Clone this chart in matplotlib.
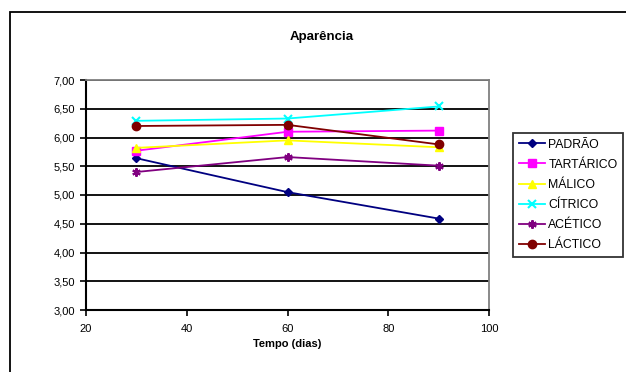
import matplotlib.pyplot as plt
from matplotlib.patches import Rectangle
from matplotlib.ticker import FuncFormatter

plt.rcParams['font.family'] = ['Liberation Sans', 'DejaVu Sans']

dias = [30, 60, 90]
padrao = [5.64, 5.05, 4.59]
tartarico = [5.77, 6.10, 6.12]
malico = [5.82, 5.95, 5.83]
citrico = [6.29, 6.33, 6.54]
acetico = [5.40, 5.66, 5.51]
lactico = [6.20, 6.22, 5.88]

fig = plt.figure(figsize=(6.26, 3.72), dpi=100)
ax = fig.add_axes([86 / 626, 1 - 310 / 372, 403 / 626, 230 / 372])

ax.plot(dias, padrao, color='#000080', marker='D', ms=4, lw=1.3, label='PADRÃO')
ax.plot(dias, tartarico, color='#ff00ff', marker='s', ms=6, lw=1.3, label='TARTÁRICO')
ax.plot(dias, malico, color='#ffff00', marker='^', ms=6, lw=1.3, label='MÁLICO')
ax.plot(dias, citrico, color='#00ffff', marker='x', ms=6, mew=1.5, lw=1.3, label='CÍTRICO')
ax.plot(dias, acetico, color='#800080', marker=(6, 2, 0), ms=6, mew=1.5, lw=1.3, label='ACÉTICO')
ax.plot(dias, lactico, color='#800000', marker='o', ms=6, lw=1.3, label='LÁCTICO')

ax.set_xlim(20, 100)
ax.set_ylim(3, 7)
ax.set_xticks([20, 40, 60, 80, 100])
ax.set_yticks([3 + 0.5 * i for i in range(9)])
ax.yaxis.set_major_formatter(FuncFormatter(lambda v, p: f'{v:.2f}'.replace('.', ',')))
ax.tick_params(labelsize=8, length=4, width=1.2, direction='out', pad=4)
ax.tick_params(axis='x', pad=6)
ax.grid(axis='y', color='black', lw=1.3)
ax.set_axisbelow(True)
for s in ['top', 'right']:
    ax.spines[s].set_color('#808080')
    ax.spines[s].set_linewidth(1.3)
for s in ['left', 'bottom']:
    ax.spines[s].set_linewidth(1.5)

ax.set_xlabel('Tempo (dias)', fontsize=8, fontweight='bold', labelpad=4)
fig.text(322 / 626, 1 - 37 / 372, 'Aparência', ha='center', va='center',
         fontsize=9.5, fontweight='bold')

leg = ax.legend(loc='upper left', bbox_to_anchor=(513 / 626, 1 - 133 / 372),
                bbox_transform=fig.transFigure, fontsize=8.8, frameon=True,
                fancybox=False, edgecolor='black', handlelength=2.2,
                labelspacing=0.67, borderpad=0.45, handletextpad=0.25,
                borderaxespad=0)
leg.get_frame().set_linewidth(1.3)

# outer chart border, cut off at the right and bottom edges
fig.patches.append(Rectangle((10 / 626, -0.1), 1.0, 1.1 - 12 / 372,
                             transform=fig.transFigure, fill=False,
                             edgecolor='black', lw=1.3))

fig.savefig('out.png', dpi=100)
